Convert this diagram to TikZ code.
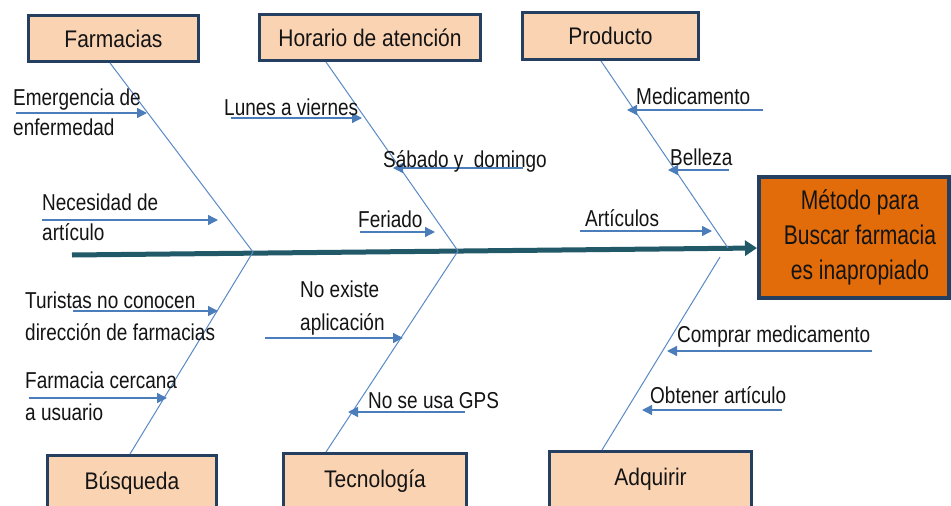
\documentclass[tikz,border=0pt]{standalone}
\usepackage{fontspec}
\setmainfont{Liberation Sans}
\newfontfamily\boxfont[FakeStretch=0.875]{Liberation Sans}
\newfontfamily\subfont[FakeStretch=0.825]{Liberation Sans}
\newfontfamily\goalfont[FakeStretch=0.78]{Liberation Sans}
\usetikzlibrary{arrows.meta,calc}
\definecolor{peach}{HTML}{FAD3B3}
\definecolor{boxline}{HTML}{243F60}
\definecolor{goalfill}{HTML}{E36C0A}
\definecolor{spinec}{HTML}{215968}
\definecolor{bonec}{HTML}{5A8AC6}
\definecolor{arrc}{HTML}{4A7DBA}
\definecolor{txt}{HTML}{141414}
\newcommand{\gsh}{\hspace*{12pt}}
\tikzset{
  catbox/.style={draw=boxline, fill=peach, line width=3pt, inner sep=0pt,
    font=\boxfont\fontsize{24}{28}\selectfont, text=txt},
  goalbox/.style={draw=boxline, fill=goalfill, line width=4pt, inner sep=0pt,
    align=center, font=\goalfont\fontsize{27}{35}\selectfont, text=txt},
  sublabel/.style={anchor=base west, inner sep=0pt,
    font=\subfont\fontsize{23}{27}\selectfont, text=txt},
  bone/.style={draw=bonec, line width=1pt},
  subarrow/.style={draw=arrc, line width=1.4pt, -{Triangle[length=10pt,width=10pt]}},
  spine/.style={draw=spinec, line width=5pt, -{Triangle[length=12pt,width=15pt]}}
}
\begin{document}
\begin{tikzpicture}[x=1pt,y=-1pt]
\useasboundingbox (0,0) rectangle (951,506);
\fill[white] (0,0) rectangle (951,506);

% category boxes
\node[catbox, minimum width=170pt, minimum height=46pt] (farm) at (113.5,38.5) {Farmacias};
\node[catbox, minimum width=221pt, minimum height=46pt] (hor) at (370,37.5) {Horario de atención};
\node[catbox, minimum width=176pt, minimum height=47pt] (prod) at (610.5,36) {Producto};
\node[catbox, minimum width=169pt, minimum height=56pt] (busq) at (132,483.5) {Búsqueda};
\node[catbox, minimum width=183pt, minimum height=56pt] (tec) at (375,481.5) {Tecnología};
\node[catbox, minimum width=202pt, minimum height=56pt] (adq) at (650.5,479.5) {Adquirir};

% goal box
\node[goalbox, minimum width=190pt, minimum height=121pt] (goal) at (854,237.5)
  {\gsh Método para\\\gsh Buscar farmacia\\\gsh es inapropiado};

% spine
\coordinate (tail) at (72,255);
\draw[spine] (tail) -- ([yshift=-10.5pt]goal.west);

% bones
\coordinate (j1) at (253,252);
\coordinate (j2) at (458,251);
\coordinate (j3a) at (728,248);
\coordinate (j3b) at (720,257);
\draw[bone] ([xshift=-3.5pt]farm.south) -- (j1) -- ([xshift=-2pt]busq.north);
\draw[bone] ([xshift=-44pt]hor.south) -- (j2) -- ([xshift=-49pt]tec.north);
\draw[bone] ([xshift=-9.5pt]prod.south) -- (j3a);
\draw[bone] (j3b) -- ([xshift=-48.5pt]adq.north);

% sub-cause arrows
\coordinate (a1s) at (16,113);   \coordinate (a1e) at (147,113);
\coordinate (a2s) at (42,220);   \coordinate (a2e) at (218,220);
\coordinate (a3s) at (231,118);  \coordinate (a3e) at (362,118);
\coordinate (a4s) at (523,168);  \coordinate (a4e) at (393,168);
\coordinate (a5s) at (360,232);  \coordinate (a5e) at (435,232);
\coordinate (a6s) at (763,110);  \coordinate (a6e) at (627,110);
\coordinate (a7s) at (729,170);  \coordinate (a7e) at (668,170);
\coordinate (a8s) at (580,231);  \coordinate (a8e) at (712,231);
\coordinate (a9s) at (73,311);   \coordinate (a9e) at (218,311);
\coordinate (a10s) at (265,338); \coordinate (a10e) at (403,338);
\coordinate (a11s) at (29,398);  \coordinate (a11e) at (167,398);
\coordinate (a12s) at (465,412); \coordinate (a12e) at (348,412);
\coordinate (a13s) at (872,351); \coordinate (a13e) at (667,351);
\coordinate (a14s) at (782,410); \coordinate (a14e) at (642,410);
\foreach \i in {1,...,14} { \draw[subarrow] (a\i s) -- (a\i e); }

% sub-cause labels
\node[sublabel] (l1a) at (13,105) {Emergencia de};
\node[sublabel] (l1b) at (13,135) {enfermedad};
\node[sublabel] (l2a) at (42,210) {Necesidad de};
\node[sublabel] (l2b) at (42,240) {artículo};
\node[sublabel] (l3) at (224,115) {Lunes a viernes};
\node[sublabel] (l4) at (383,167) {Sábado y\ \ domingo};
\node[sublabel] (l5) at (358,227) {Feriado};
\node[sublabel] (l6) at (636,104) {Medicamento};
\node[sublabel] (l7) at (670,165) {Belleza};
\node[sublabel] (l8) at (585,226) {Artículos};
\node[sublabel] (l9a) at (25,308) {Turistas no\ conocen};
\node[sublabel] (l9b) at (25,340) {dirección de farmacias};
\node[sublabel] (l10a) at (300,297) {No existe};
\node[sublabel] (l10b) at (300,330) {aplicación};
\node[sublabel] (l11a) at (25,388) {Farmacia cercana};
\node[sublabel] (l11b) at (25,420) {a usuario};
\node[sublabel] (l12) at (368,408) {No se usa GPS};
\node[sublabel] (l13) at (677,342) {Comprar medicamento};
\node[sublabel] (l14) at (650,403) {Obtener artículo};
\end{tikzpicture}
\end{document}
